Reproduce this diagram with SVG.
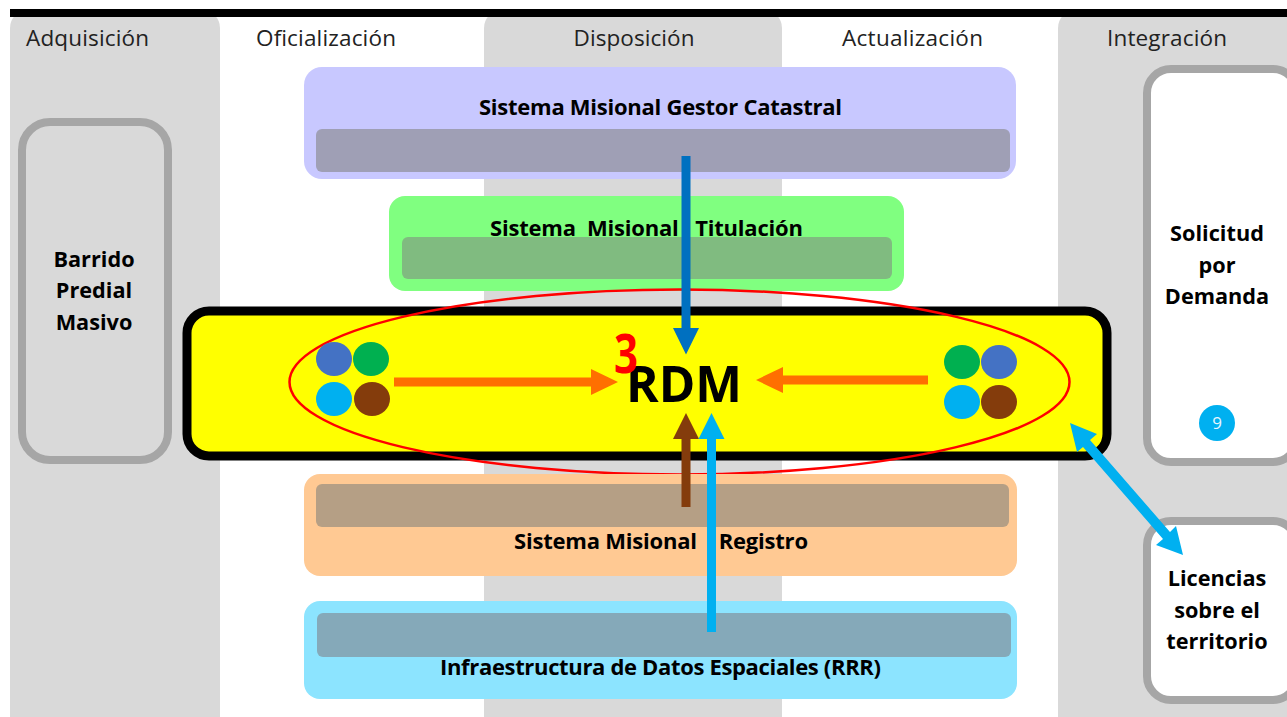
<svg xmlns="http://www.w3.org/2000/svg" width="1287" height="717" viewBox="0 0 1287 717">
<style>
text{font-family:"Open Sans","Noto Sans","Liberation Sans",sans-serif;fill:#000;text-anchor:middle}
.h{font-size:22.500px;fill:#222}
.b{font-size:21.700px;font-weight:700}
.s{font-size:22px;font-weight:700}
.col{fill:#d9d9d9}
.card{stroke:#a6a6a6;stroke-width:8}
</style>
<rect width="1287" height="717" fill="#fff"/>
<g id="columns">
<rect class="col" x="10" y="10" width="210" height="730" rx="18"/>
<rect class="col" x="484" y="10" width="298" height="730" rx="18"/>
<rect class="col" x="1058" y="10" width="260" height="730" rx="18"/>
<rect x="10" y="9" width="1277" height="8" fill="#000"/>
<text class="h" x="87.500" y="46" textLength="123">Adquisición</text>
<text class="h" x="326" y="46" textLength="140">Oficialización</text>
<text class="h" x="634" y="46" textLength="121">Disposición</text>
<text class="h" x="912.500" y="46" textLength="141">Actualización</text>
<text class="h" x="1167" y="46" textLength="120">Integración</text>
</g>
<g id="barrido">
<rect class="card" x="22" y="122" width="146" height="338" rx="28" fill="#d9d9d9"/>
<text class="b" x="94" y="267">Barrido</text>
<text class="b" x="94" y="298">Predial</text>
<text class="b" x="94" y="330">Masivo</text>
</g>
<g id="solicitud">
<rect class="card" x="1147" y="69" width="150" height="393" rx="24" fill="#fff"/>
<text class="b" x="1217" y="241">Solicitud</text>
<text class="b" x="1217" y="273">por</text>
<text class="b" x="1217" y="304">Demanda</text>
<circle cx="1217" cy="423" r="18" fill="#00b0f0"/>
<text x="1217" y="429" style="font-size:17px;fill:#e8f6ff">9</text>
</g>
<g id="licencias">
<rect class="card" x="1147" y="521" width="150" height="179" rx="24" fill="#fff"/>
<text class="b" x="1217" y="586">Licencias</text>
<text class="b" x="1217" y="618">sobre el</text>
<text class="b" x="1217" y="649">territorio</text>
</g>
<g id="catastral">
<rect x="304" y="67" width="712" height="112" rx="18" fill="#c8c8ff"/>
<rect x="316" y="129" width="694" height="43" rx="6" fill="#9f9fb5"/>
<text class="s" x="660.500" y="115" textLength="363">Sistema Misional Gestor Catastral</text>
</g>
<g id="titulacion">
<rect x="389" y="196" width="515" height="95" rx="16" fill="#80ff80"/>
<rect x="402" y="237" width="490" height="42" rx="6" fill="#80bb80"/>
<text class="s" x="646.500" y="236" xml:space="preserve" textLength="313">Sistema  Misional   Titulación</text>
</g>
<g id="rdm">
<rect x="187" y="311" width="920" height="145" rx="22" fill="#ff0" stroke="#000" stroke-width="9"/>
<ellipse cx="679.500" cy="382" rx="390" ry="92.500" fill="none" stroke="#f00" stroke-width="2.500"/>
<g id="dots-left">
<ellipse cx="334" cy="359" rx="18" ry="17" fill="#4472c4"/>
<ellipse cx="371" cy="359" rx="18" ry="17" fill="#00b050"/>
<ellipse cx="334" cy="399" rx="18" ry="17" fill="#00b0f0"/>
<ellipse cx="372" cy="399" rx="18" ry="17" fill="#843c0c"/>
</g>
<g id="dots-right">
<ellipse cx="962" cy="362" rx="18" ry="17" fill="#00b050"/>
<ellipse cx="999" cy="362" rx="18" ry="17" fill="#4472c4"/>
<ellipse cx="962" cy="402" rx="18" ry="17" fill="#00b0f0"/>
<ellipse cx="999" cy="402" rx="18" ry="17" fill="#843c0c"/>
</g>
<text x="684" y="402" textLength="116" lengthAdjust="spacingAndGlyphs" style="font-size:50px;font-weight:700">RDM</text>
<text x="626" y="373" textLength="24" lengthAdjust="spacingAndGlyphs" style="font-size:53px;font-weight:700;fill:#f00">3</text>
</g>
<g id="registro">
<rect x="304" y="474" width="713" height="102" rx="16" fill="#ffc993"/>
<rect x="316" y="484" width="693" height="43" rx="6" fill="#b59f85"/>
<text class="s" x="661" y="549" xml:space="preserve" textLength="294">Sistema Misional    Registro</text>
</g>
<g id="ide">
<rect x="304" y="601" width="713" height="98" rx="16" fill="#8ce4ff"/>
<rect x="317" y="613" width="694" height="44" rx="6" fill="#85a9b9"/>
<text class="s" x="660.500" y="675" textLength="441">Infraestructura de Datos Espaciales (RRR)</text>
</g>
<g id="connectors">
<polygon points="681.500,156 690.500,156 690.500,328 699,328 686,354.500 673,328 681.500,328" fill="#0070c0"/>
<polygon points="681.500,507 690.500,507 690.500,439 699,439 686,413 673,439 681.500,439" fill="#843c0c"/>
<polygon points="707,632 716,632 716,439 724.500,439 711.500,413 698.500,439 707,439" fill="#00b0f0"/>
<polygon points="394,377.500 591,377.500 591,369 618,382 591,395 591,386.500 394,386.500" fill="#ff6f00"/>
<polygon points="928,375.500 783,375.500 783,367 756,380 783,393 783,384.500 928,384.500" fill="#ff6f00"/>
<polygon points="1070,423 1097,434 1090,440 1170,532 1176,526 1183,555 1156,545 1163,539 1083,447 1077,452" fill="#00b0f0"/>
</g>
</svg>
